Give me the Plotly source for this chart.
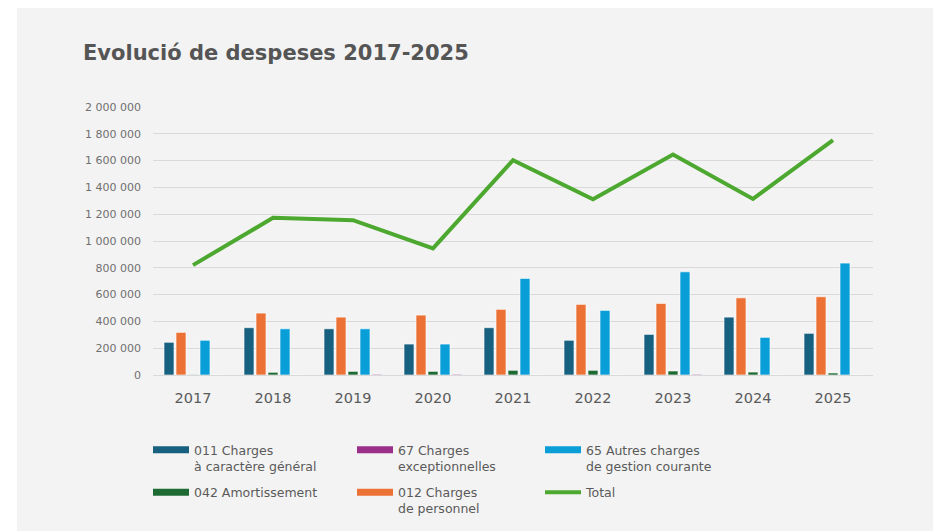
import plotly.graph_objects as go

years = ["2017", "2018", "2019", "2020", "2021", "2022", "2023", "2024", "2025"]
charges_011 = [244000, 353000, 345000, 231000, 353000, 259000, 303000, 432000, 311000]
charges_012 = [318000, 462000, 432000, 447000, 490000, 527000, 534000, 576000, 584000]
amort_042 = [3000, 20000, 27000, 27000, 35000, 35000, 30000, 22000, 15000]
autres_65 = [259000, 345000, 345000, 231000, 721000, 482000, 770000, 281000, 835000]
except_67 = [0, 0, 5000, 5000, 0, 0, 5000, 0, 0]
total = [820000, 1173000, 1155000, 945000, 1603000, 1312000, 1645000, 1314000, 1752000]
y_ticks = [0, 200000, 400000, 600000, 800000, 1000000, 1200000, 1400000, 1600000, 1800000, 2000000]

C011 = "#17607f"
C012 = "#ec7135"
C042 = "#1d6b33"
C65 = "#0a9ed8"
C67 = "#9a2f8a"
CTOT = "#4ca82f"

FONT = "DejaVu Sans"
TXT = "#5a5a5a"

series = [
    ("011 Charges<br>à caractère général", charges_011, C011),
    ("012 Charges<br>de personnel", charges_012, C012),
    ("042 Amortissement", amort_042, C042),
    ("65 Autres charges<br>de gestion courante", autres_65, C65),
    ("67 Charges<br>exceptionnelles", except_67, C67),
]

fig = go.Figure()
for name, vals, col in series:
    fig.add_trace(go.Bar(x=years, y=vals, name=name,
                         marker=dict(color=col, line=dict(color="rgba(255,255,255,0.6)", width=1)),
                         showlegend=False))
fig.add_trace(go.Scatter(x=years, y=total, mode="lines", name="Total",
                         line=dict(color=CTOT, width=4), showlegend=False))

# legend entries (wide rectangle symbols)
legend_items = [
    ("011 Charges<br>à caractère général", C011, "legend", 7),
    ("042 Amortissement", C042, "legend", 7),
    ("67 Charges<br>exceptionnelles", C67, "legend2", 7),
    ("012 Charges<br>de personnel", C012, "legend2", 7),
    ("65 Autres charges<br>de gestion courante", C65, "legend3", 7),
    ("Total", CTOT, "legend3", 4),
]
for i, (name, col, lg, w) in enumerate(legend_items):
    fig.add_trace(go.Scatter(x=[None], y=[None], mode="lines", name=name, legend=lg,
                             legendgroup="g%d" % i, line=dict(color=col, width=w), showlegend=True))

W, H = 941, 531
L, R, T, B = 145, 76, 99, 164
pw, ph = W - L - R, H - T - B

def px_x(px):
    return (px - L) / pw

def px_y(py):
    return (H - B - py) / ph

legend_common = dict(orientation="v", yanchor="top", xanchor="left", valign="top",
                     xref="container", yref="container",
                     bgcolor="rgba(0,0,0,0)", itemwidth=36, tracegroupgap=7,
                     font=dict(family=FONT, size=12.5, color=TXT), itemclick=False)

fig.update_layout(
    width=W, height=H,
    margin=dict(l=L, r=R, t=T, b=B, autoexpand=False),
    paper_bgcolor="#f3f3f3",
    plot_bgcolor="rgba(0,0,0,0)",
    separators=", ",
    barmode="group", bargap=0.25, bargroupgap=0.17,
    title=dict(text="<b>Evolució de despeses 2017-2025</b>", x=75 / W, xref="container", xanchor="left",
               y=1 - 45 / H, yref="container", yanchor="middle",
               font=dict(family=FONT, size=21, color="#555555")),
    shapes=[dict(type="rect", xref="paper", yref="paper", x0=px_x(-5), x1=px_x(9), y0=px_y(H + 5), y1=px_y(-5),
                 fillcolor="white", line=dict(width=0), layer="below")],
    legend=dict(x=140 / W, y=1 - 427 / H, **legend_common),
    legend2=dict(x=344 / W, y=1 - 427 / H, **legend_common),
    legend3=dict(x=532 / W, y=1 - 427 / H, **legend_common),
    xaxis=dict(showgrid=False, showline=False, ticks="", ticklabelstandoff=12,
               tickfont=dict(family=FONT, size=14.5, color=TXT)),
    yaxis=dict(range=[0, 2000000], tickvals=y_ticks, tickformat=",d", showline=False,
               gridcolor="#d9d9d9", gridwidth=1, zeroline=True, zerolinecolor="#d9d9d9", zerolinewidth=1,
               ticks="", ticklabelstandoff=11,
               tickfont=dict(family=FONT, size=11, color="#707070")),
)

fig.write_html("out.html")
